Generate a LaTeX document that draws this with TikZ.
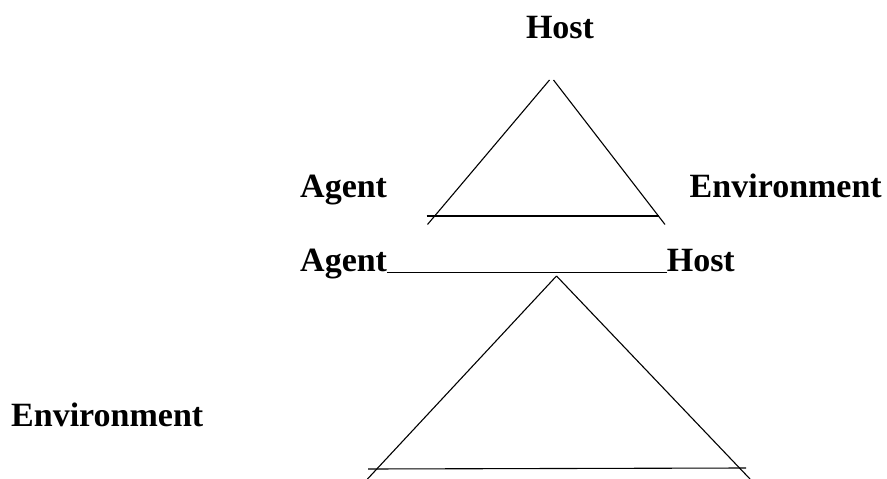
\documentclass[tikz,border=0pt]{standalone}
\usepackage{fontspec}
\setmainfont{Liberation Serif}
\begin{document}
\begin{tikzpicture}[x=1pt,y=-1pt,
  lbl/.style={inner sep=0pt,font=\fontsize{34}{38}\selectfont\bfseries},
  edge/.style={line width=1.1pt}]
\useasboundingbox (0,0) rectangle (887,479);
% labels
\node[lbl,anchor=base] (host1) at (560,38) {Host};
\node[lbl,anchor=base west] (agent1) at (300,197) {Agent};
\node[lbl,anchor=base east] (env1) at (882,197) {Environment};
\node[lbl,anchor=base west] (agent2) at (300,271) {Agent};
\node[lbl,anchor=base east] (host2) at (735,271) {Host};
\node[lbl,anchor=base west] (env2) at (11,426) {Environment};
% top triangle
\coordinate (t1a) at (549.5,80);
\coordinate (t1b) at (553.5,80);
\coordinate (l1) at (427.5,224.5);
\coordinate (r1) at (665,224.5);
\coordinate (b1l) at (426.5,216);
\coordinate (b1r) at (659,216);
\draw[edge] (t1a) -- (l1);
\draw[edge] (t1b) -- (r1);
\draw[edge] (b1l) -- (b1r);
% underline joining Agent and Host
\draw[line width=1.8pt] ([yshift=-1.5pt]agent2.base east) -- ([yshift=-1.5pt]host2.base west);
% bottom triangle
\coordinate (t2) at (556.5,276);
\coordinate (l2) at (367.5,479);
\coordinate (r2) at (750,479);
\coordinate (b2l) at (368,469);
\coordinate (b2r) at (746,468);
\draw[edge] (t2) -- (l2);
\draw[edge] (t2) -- (r2);
\draw[edge] (b2l) -- (b2r);
\end{tikzpicture}
\end{document}
